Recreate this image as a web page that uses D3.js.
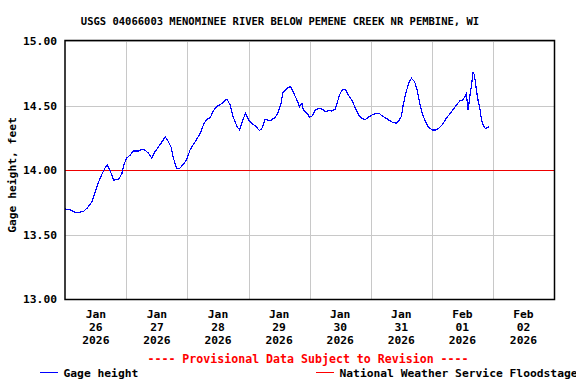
<!DOCTYPE html>
<html>
<head>
<meta charset="utf-8">
<script src="https://cdn.jsdelivr.net/npm/d3@7"></script>
<style>
  html, body { margin: 0; padding: 0; background: #fff; }
  svg { display: block; }
  text { font-family: "DejaVu Sans Mono", "Liberation Mono", monospace; font-weight: bold; }
</style>
</head>
<body>
<svg id="chart" width="576" height="384"></svg>
<script>
// ---- Data ----
const title = "USGS 04066003 MENOMINEE RIVER BELOW PEMENE CREEK NR PEMBINE, WI";
const yLabel = "Gage height, feet";
const startTime = "2026-01-26T00:00:00";
const endTime = "2026-02-03T00:00:00";
const yTicks = [13.0, 13.5, 14.0, 14.5, 15.0];
const dayLabels = [
  ["Jan", "26", "2026"], ["Jan", "27", "2026"], ["Jan", "28", "2026"], ["Jan", "29", "2026"],
  ["Jan", "30", "2026"], ["Jan", "31", "2026"], ["Feb", "01", "2026"], ["Feb", "02", "2026"]
];
const floodStage = 14.0;
// hours since 2026-01-26 00:00
const hoursSinceStart = [
  0, 2, 4, 7, 8.5, 10.5, 11.75, 13, 14.25, 15.5, 16.5, 17.5, 19, 21, 22.25, 23, 24, 25.5, 26.75, 28.75,
  30, 31.25, 32.75, 34, 35, 36.5, 38, 39.25, 40.5, 41.5, 42.5, 43.75, 45, 46.5, 47.75, 49, 51, 53, 54.5, 55.75,
  57, 58.25, 59.5, 61, 62.25, 63.5, 64.75, 66, 67.5, 68.5, 69.5, 70.75, 72, 73.25, 75.25, 76.25, 77.25, 78.5, 80.5, 82.5,
  83.75, 84.75, 85.5, 87, 88.5, 89.75, 91, 92, 93, 93.5, 95, 96, 97, 98.25, 99.5, 101.25, 102.25, 103.5, 104.75, 106,
  106.75, 107.75, 108.75, 110, 111.25, 112.75, 114, 115.25, 116.5, 117.75, 119.25, 121.25, 123.25, 124.5, 126.5, 128.5, 130, 131, 132, 132.75,
  133.75, 135, 136, 137.25, 138.25, 139.25, 140.25, 141.5, 142.75, 144.25, 145.5, 146.75, 148, 149.5, 151, 152.75, 154, 155, 156, 156.75,
  157.5, 158, 158.25, 159, 159.5, 160, 160.25, 160.75, 161.5, 162.25, 163, 163.5, 164.25, 165, 166, 166.5
];
const gageHeight = [
  13.698, 13.690, 13.669, 13.677, 13.703, 13.754, 13.832, 13.902, 13.961, 14.013, 14.039, 14.000, 13.922, 13.928, 13.974, 14.039, 14.091, 14.116, 14.147, 14.147,
  14.160, 14.155, 14.129, 14.091, 14.134, 14.176, 14.219, 14.258, 14.219, 14.181, 14.091, 14.013, 14.013, 14.047, 14.083, 14.155, 14.219, 14.284, 14.362, 14.393,
  14.409, 14.460, 14.491, 14.509, 14.529, 14.550, 14.504, 14.409, 14.336, 14.310, 14.374, 14.440, 14.388, 14.362, 14.331, 14.305, 14.323, 14.393, 14.382, 14.409,
  14.452, 14.517, 14.599, 14.633, 14.646, 14.595, 14.543, 14.491, 14.517, 14.465, 14.440, 14.409, 14.419, 14.465, 14.478, 14.471, 14.452, 14.460, 14.457, 14.471,
  14.517, 14.581, 14.620, 14.626, 14.581, 14.535, 14.478, 14.426, 14.401, 14.388, 14.413, 14.434, 14.440, 14.419, 14.395, 14.370, 14.362, 14.382, 14.413, 14.504,
  14.595, 14.677, 14.711, 14.684, 14.620, 14.517, 14.440, 14.374, 14.331, 14.310, 14.310, 14.323, 14.349, 14.395, 14.434, 14.478, 14.512, 14.535, 14.543, 14.560,
  14.587, 14.517, 14.465, 14.581, 14.646, 14.723, 14.762, 14.736, 14.620, 14.529, 14.465, 14.388, 14.341, 14.323, 14.328, 14.341
];

// ---- Chart ----
(function () {
const svg = d3.select("#chart");
const pLeft = 65.3, pRight = 554, pTop = 41, pBottom = 299;
const t0 = new Date(startTime), t1 = new Date(endTime);
const x = d3.scaleTime().domain([t0, t1]).range([pLeft, pRight]);
const y = d3.scaleLinear().domain([13, 15]).range([pBottom, pTop]);

const data = hoursSinceStart.map((h, i) => ({ t: new Date(t0.getTime() + h * 3600e3), v: gageHeight[i] }));
const days = d3.timeDay.range(t0, t1);

// title
svg.append("text").attr("x", 280).attr("y", 25).attr("text-anchor", "middle")
  .attr("font-size", 10.5).text(title);

const g = svg.append("g").attr("shape-rendering", "crispEdges");

// horizontal gridlines
g.selectAll(".hg").data(yTicks).join("line")
  .attr("x1", pLeft).attr("x2", pRight)
  .attr("y1", d => Math.round(y(d)) + 0.5).attr("y2", d => Math.round(y(d)) + 0.5)
  .attr("stroke", "#c8c8c8").attr("stroke-width", 1);

// vertical gridlines at midnights
g.selectAll(".vg").data(days.slice(1)).join("line")
  .attr("x1", d => Math.round(x(d)) + 0.5).attr("x2", d => Math.round(x(d)) + 0.5)
  .attr("y1", pTop).attr("y2", pBottom)
  .attr("stroke", "#c8c8c8").attr("stroke-width", 1);

// flood stage
g.append("line").attr("x1", pLeft).attr("x2", pRight)
  .attr("y1", Math.round(y(floodStage)) + 0.5).attr("y2", Math.round(y(floodStage)) + 0.5)
  .attr("stroke", "#ee0000").attr("stroke-width", 1);

// series
g.append("path").datum(data)
  .attr("d", d3.line().x(d => x(d.t)).y(d => y(d.v)))
  .attr("fill", "none").attr("stroke", "#0000ff").attr("stroke-width", 1.2);

// frame
svg.append("rect").attr("x", 65).attr("y", 40.5).attr("width", 489.5).attr("height", 259)
  .attr("fill", "none").attr("stroke", "#000").attr("stroke-width", 1.5);

// y tick labels
svg.selectAll(".yt").data(yTicks).join("text")
  .attr("x", 57).attr("y", d => y(d) + 4).attr("text-anchor", "end")
  .attr("font-size", 11.3).text(d => d3.format(".2f")(d));

// y label
svg.append("text").attr("transform", "translate(16,175) rotate(-90)")
  .attr("text-anchor", "middle").attr("font-size", 11.3).text(yLabel);

// x labels (centered at noon)
const xl = svg.selectAll(".xl").data(days).join("text")
  .attr("text-anchor", "middle").attr("font-size", 11.3);
[318, 331, 344].forEach((yy, k) => {
  xl.append("tspan").attr("x", d => x(d3.timeHour.offset(d, 12))).attr("y", yy)
    .text((d, i) => dayLabels[i][k]);
});

// provisional note
svg.append("text").attr("x", 308).attr("y", 363).attr("text-anchor", "middle")
  .attr("font-size", 11.6).attr("fill", "#ff0000")
  .text("---- Provisional Data Subject to Revision ----");

// legend
svg.append("line").attr("x1", 40).attr("x2", 57.5).attr("y1", 372.5).attr("y2", 372.5)
  .attr("stroke", "#0000ff").attr("stroke-width", 1).attr("shape-rendering", "crispEdges");
svg.append("text").attr("x", 63.5).attr("y", 377).attr("font-size", 11.3).text("Gage height");
svg.append("line").attr("x1", 316).attr("x2", 333.5).attr("y1", 372.5).attr("y2", 372.5)
  .attr("stroke", "#ff0000").attr("stroke-width", 1).attr("shape-rendering", "crispEdges");
svg.append("text").attr("x", 339.5).attr("y", 377).attr("font-size", 11.3).text("National Weather Service Floodstage");
})();
</script>
</body>
</html>
